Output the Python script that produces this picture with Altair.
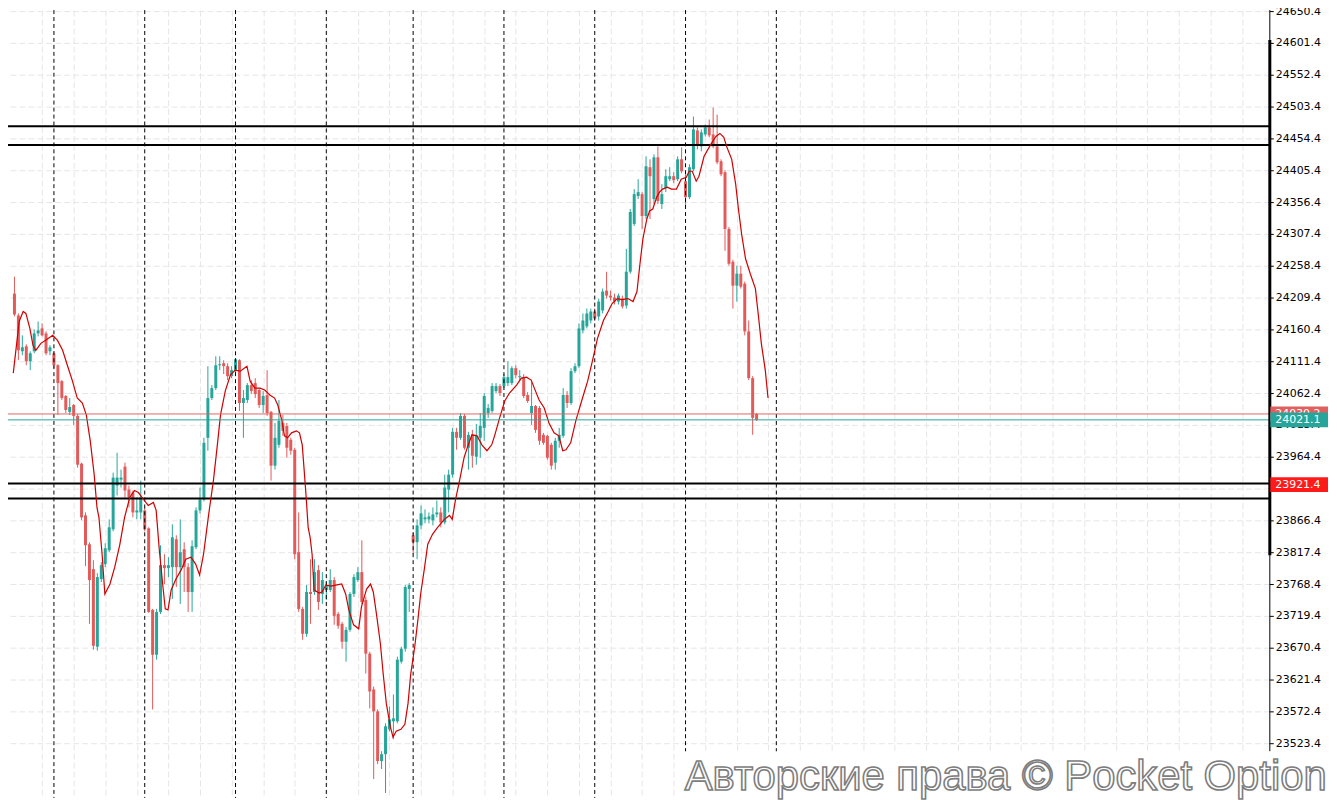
import altair as alt
import pandas as pd

# ---------------- data ----------------
opens = [24215.5, 24181.8, 24126.7, 24134.3, 24111.4, 24126.7, 24154.2, 24161.9, 24154.2, 24126.7,
         24123.6, 24105.2, 24080.7, 24057.8, 24033.3, 24044.0, 24027.2, 23953.7, 23874.0, 23829.6,
         23791.3, 23671.9, 23776.0, 23799.0, 23820.4, 23852.6, 23920.0, 23929.1, 23949.1, 23913.8,
         23909.2, 23878.6, 23878.6, 23881.7, 23854.1, 23728.6, 23659.6, 23725.5, 23797.5, 23792.9,
         23794.4, 23837.3, 23794.4, 23822.0, 23794.4, 23756.1, 23825.0, 23881.7, 23898.5, 23993.5,
         24054.7, 24070.0, 24105.2, 24108.3, 24103.7, 24088.4, 24096.1, 24112.9, 24047.1, 24051.7,
         24074.6, 24077.7, 24067.0, 24044.0, 24059.3, 24033.3, 23950.6, 23982.7, 24016.4, 24011.8,
         23990.4, 23975.1, 23817.4, 23730.1, 23691.8, 23756.1, 23756.1, 23789.8, 23753.1, 23759.2,
         23759.2, 23774.5, 23722.4, 23707.1, 23679.6, 23697.9, 23753.1, 23774.5, 23786.7, 23743.9,
         23661.2, 23606.1, 23572.4, 23495.8, 23506.5, 23544.8, 23557.1, 23557.1, 23648.9, 23668.8,
         23760.7, 23843.4, 23832.7, 23858.7, 23867.9, 23867.9, 23866.4, 23875.6, 23878.6, 23863.3,
         23913.8, 23936.8, 24002.7, 23993.5, 24027.2, 23978.2, 23998.1, 23964.4, 23993.5, 24008.8,
         24031.7, 24034.8, 24065.4, 24073.1, 24073.1, 24077.7, 24077.7, 24100.7, 24086.9, 24086.9,
         24059.3, 24031.7, 24042.5, 24039.4, 23998.1, 23996.5, 23982.7, 23955.2, 23988.9, 23996.5,
         24059.3, 24047.1, 24096.1, 24103.7, 24158.8, 24165.0, 24174.1, 24187.9, 24180.3, 24189.5,
         24220.1, 24212.4, 24209.4, 24203.2, 24207.8, 24197.1, 24249.2, 24322.7, 24365.6, 24368.6,
         24334.9, 24410.0, 24361.0, 24425.3, 24353.3, 24377.8, 24391.6, 24396.2, 24391.6, 24422.2,
         24388.5, 24364.0, 24406.9, 24466.6, 24442.1, 24460.5, 24471.2, 24460.5, 24442.1, 24419.2,
         24402.3, 24315.0, 24264.5, 24227.7, 24246.1, 24230.8, 24157.3, 24085.3, 24030.2]

closes = [24183.3, 24128.2, 24132.8, 24111.4, 24123.6, 24154.2, 24158.8, 24151.2, 24123.6, 24132.8,
          24105.2, 24077.7, 24054.7, 24036.3, 24040.9, 24027.2, 23952.1, 23871.0, 23828.1, 23774.5,
          23673.4, 23779.1, 23797.5, 23823.5, 23855.7, 23932.2, 23932.2, 23932.2, 23912.3, 23901.6,
          23878.6, 23881.7, 23901.6, 23852.6, 23725.5, 23659.6, 23725.5, 23797.5, 23792.9, 23797.5,
          23840.3, 23794.4, 23817.4, 23794.4, 23756.1, 23826.6, 23881.7, 23898.5, 23985.8, 24054.7,
          24070.0, 24105.2, 24106.8, 24103.7, 24088.4, 24097.6, 24114.4, 24047.1, 24054.7, 24074.6,
          24065.4, 24060.8, 24044.0, 24057.8, 24031.7, 23950.6, 23993.5, 24019.5, 24004.2, 23978.2,
          23973.6, 23814.3, 23730.1, 23691.8, 23756.1, 23753.1, 23786.7, 23740.8, 23774.5, 23766.8,
          23774.5, 23719.4, 23704.1, 23679.6, 23697.9, 23753.1, 23779.1, 23786.7, 23740.8, 23661.2,
          23603.0, 23572.4, 23495.8, 23506.5, 23549.4, 23560.1, 23561.7, 23652.0, 23668.8, 23763.8,
          23766.8, 23832.7, 23858.7, 23877.1, 23871.0, 23872.5, 23875.6, 23878.6, 23863.3, 23916.9,
          23936.8, 24002.7, 23993.5, 24027.2, 23978.2, 23998.1, 23965.9, 23996.5, 24011.8, 24057.8,
          24039.4, 24073.1, 24073.1, 24062.4, 24086.9, 24086.9, 24100.7, 24089.9, 24088.4, 24057.8,
          24050.1, 24042.5, 24005.7, 23988.9, 23985.8, 23962.8, 23950.6, 23988.9, 23998.1, 24059.3,
          24047.1, 24096.1, 24103.7, 24161.9, 24174.1, 24184.9, 24187.9, 24177.2, 24203.2, 24218.6,
          24212.4, 24209.4, 24203.2, 24212.4, 24195.6, 24249.2, 24341.1, 24368.6, 24371.7, 24334.9,
          24411.5, 24396.2, 24425.3, 24357.9, 24368.6, 24396.2, 24396.2, 24390.1, 24422.2, 24403.8,
          24364.0, 24410.0, 24468.2, 24445.2, 24463.6, 24471.2, 24459.0, 24442.1, 24417.6, 24399.2,
          24315.0, 24261.4, 24227.7, 24246.1, 24226.2, 24157.3, 24085.3, 24024.1, 24021.1]

highs = [24241.5, 24184.9, 24151.2, 24137.4, 24126.7, 24160.4, 24172.6, 24169.6, 24157.3, 24135.9,
         24126.7, 24106.8, 24082.3, 24059.3, 24054.7, 24045.5, 24030.2, 23955.2, 23878.6, 23832.7,
         23805.1, 23785.2, 23802.1, 23831.2, 23867.9, 23939.9, 23970.5, 23944.5, 23955.2, 23920.0,
         23912.3, 23901.6, 23927.6, 23886.3, 23855.7, 23730.1, 23730.1, 23828.1, 23814.3, 23809.7,
         23860.2, 23843.4, 23867.9, 23832.7, 23800.5, 23835.7, 23886.3, 23916.9, 23993.5, 24103.7,
         24074.6, 24119.0, 24119.0, 24112.9, 24108.3, 24103.7, 24116.0, 24114.4, 24067.0, 24077.7,
         24082.3, 24085.3, 24070.0, 24065.4, 24097.6, 24034.8, 24016.4, 24051.7, 24028.7, 24016.4,
         23993.5, 23978.2, 23878.6, 23733.2, 23766.8, 23806.6, 23806.6, 23797.5, 23786.7, 23771.4,
         23791.3, 23779.1, 23725.5, 23710.2, 23702.5, 23756.1, 23783.7, 23794.4, 23835.7, 23748.5,
         23664.2, 23610.7, 23575.4, 23511.1, 23554.0, 23580.0, 23598.4, 23656.6, 23671.9, 23766.8,
         23769.9, 23848.0, 23867.9, 23889.3, 23883.2, 23878.6, 23886.3, 23897.0, 23886.3, 23936.8,
         23944.5, 24008.8, 24008.8, 24031.7, 24030.2, 24002.7, 24005.7, 24014.9, 24031.7, 24062.4,
         24045.5, 24077.7, 24077.7, 24076.2, 24091.5, 24111.4, 24103.7, 24105.2, 24097.6, 24091.5,
         24063.9, 24079.2, 24044.0, 24042.5, 24001.1, 23998.1, 23985.8, 23993.5, 24008.8, 24070.0,
         24065.4, 24100.7, 24108.3, 24169.6, 24184.9, 24192.5, 24192.5, 24192.5, 24207.8, 24223.2,
         24249.2, 24220.1, 24215.5, 24215.5, 24212.4, 24284.4, 24345.7, 24376.3, 24391.6, 24371.7,
         24426.8, 24422.2, 24429.9, 24442.1, 24383.9, 24406.9, 24410.0, 24402.3, 24426.8, 24440.6,
         24399.2, 24414.6, 24488.1, 24471.2, 24468.2, 24475.8, 24483.5, 24501.8, 24491.1, 24422.2,
         24405.4, 24318.1, 24267.6, 24258.4, 24258.4, 24233.9, 24174.1, 24088.4, 24031.7]

lows = [24180.3, 24112.9, 24120.6, 24105.2, 24097.6, 24123.6, 24149.6, 24149.6, 24120.6, 24120.6,
        24100.7, 24028.7, 24051.7, 24031.7, 24028.7, 24013.4, 23947.5, 23866.4, 23795.9, 23707.1,
        23667.3, 23665.8, 23771.4, 23794.4, 23817.4, 23849.5, 23904.7, 23916.9, 23901.6, 23886.3,
        23871.0, 23867.9, 23867.9, 23849.5, 23724.0, 23575.4, 23652.0, 23722.4, 23768.4, 23779.1,
        23745.4, 23763.8, 23737.7, 23756.1, 23725.5, 23725.5, 23822.0, 23877.1, 23895.5, 23973.6,
        24051.7, 24067.0, 24097.6, 24091.5, 24082.3, 24085.3, 24093.0, 24034.8, 23993.5, 24047.1,
        24060.8, 24054.7, 24039.4, 24031.7, 24027.2, 23927.6, 23944.5, 23978.2, 23996.5, 23962.8,
        23967.4, 23806.6, 23725.5, 23682.6, 23687.2, 23707.1, 23751.5, 23728.6, 23737.7, 23743.9,
        23756.1, 23705.6, 23699.5, 23668.8, 23648.9, 23694.9, 23748.5, 23771.4, 23737.7, 23630.6,
        23577.0, 23468.2, 23491.2, 23483.6, 23446.8, 23541.7, 23529.5, 23554.0, 23645.9, 23664.2,
        23725.5, 23814.3, 23806.6, 23852.6, 23861.8, 23861.8, 23858.7, 23871.0, 23855.7, 23860.2,
        23878.6, 23932.2, 23975.1, 23990.4, 23975.1, 23944.5, 23947.5, 23952.1, 23962.8, 23988.9,
        24024.1, 24031.7, 24062.4, 24057.8, 24070.0, 24073.1, 24074.6, 24085.3, 24080.7, 24054.7,
        24047.1, 24013.4, 24001.1, 23982.7, 23982.7, 23959.8, 23944.5, 23944.5, 23978.2, 23993.5,
        24039.4, 24044.0, 24093.0, 24100.7, 24154.2, 24161.9, 24169.6, 24174.1, 24174.1, 24184.9,
        24207.8, 24204.8, 24198.7, 24198.7, 24192.5, 24192.5, 24246.1, 24319.6, 24361.0, 24315.0,
        24330.3, 24330.3, 24353.3, 24353.3, 24345.7, 24371.7, 24388.5, 24385.5, 24388.5, 24400.8,
        24350.2, 24361.0, 24403.8, 24437.5, 24434.5, 24457.4, 24455.9, 24439.1, 24414.6, 24396.2,
        24281.3, 24258.4, 24192.5, 24203.2, 24223.2, 24151.2, 24082.3, 23998.1, 24019.5]

# moving-average line: (candle position, value)
ma_pos = [-0.3, 1.2, 2.2, 2.9, 3.9, 4.7, 5.4, 6.7, 7.9, 9.7, 10.9, 12.2, 13.4, 14.7, 15.9, 17.2, 18.2,
          19.2, 20.2, 20.9, 21.4, 22.2, 22.9, 24.2, 25.4, 26.7, 27.9, 29.2, 30.4, 31.4, 32.7, 33.9, 35.2,
          35.9, 36.7, 37.7, 38.2, 38.9, 39.7, 40.9, 42.2, 43.4, 44.7, 45.9, 46.9, 47.9, 49.2, 50.4, 51.4,
          52.2, 53.4, 54.7, 55.9, 57.2, 58.9, 59.7, 60.9, 62.2, 63.4, 64.7, 65.9, 66.7, 67.7, 68.4, 69.2,
          70.2, 71.4, 72.2, 72.9, 73.4, 73.9, 74.4, 74.9, 75.4, 75.9, 77.2, 77.9, 78.9, 80.2, 81.4, 82.9,
          83.9, 84.7, 85.9, 87.2, 87.9, 89.2, 90.2, 90.9, 91.7, 92.7, 93.4, 94.2, 95.2, 95.9, 96.7, 97.9,
          98.9, 99.7, 100.4, 101.4, 102.2, 102.9, 103.9, 104.7, 105.9, 107.2, 108.9, 110.2, 110.9, 111.7,
          112.9, 113.9, 114.7, 115.9, 117.2, 118.4, 119.7, 120.9, 121.7, 122.9, 124.2, 125.4, 127.2,
          128.4, 129.7, 130.9, 131.7, 132.9, 134.2, 135.4, 136.7, 137.9, 138.9, 139.7, 140.9, 142.2,
          143.9, 145.2, 146.4, 147.7, 149.2, 150.4, 151.4, 152.7, 153.9, 155.4, 156.7, 157.7, 158.4,
          159.2, 160.2, 160.9, 161.7, 162.7, 163.4, 164.2, 165.4, 166.4, 167.7, 168.9, 170.2, 170.9,
          171.7, 172.7, 173.4, 174.7, 176.4, 177.7, 178.7, 179.7, 180.4, 181.7, 182.7, 183.4, 184.2,
          185.2, 186.4, 187.7, 188.4, 189.2, 190.2, 190.9]
ma_vals = [24093.0, 24172.6, 24187.9, 24184.9, 24161.9, 24135.9, 24128.2, 24138.9, 24143.5, 24151.2,
           24143.5, 24128.2, 24105.2, 24080.7, 24054.7, 24047.1, 24028.7, 23988.9, 23936.8, 23886.3,
           23871.0, 23814.3, 23753.1, 23768.4, 23794.4, 23829.6, 23871.0, 23901.6, 23912.3, 23909.2,
           23898.5, 23889.3, 23893.9, 23881.7, 23820.4, 23759.2, 23730.1, 23728.6, 23759.2, 23776.0,
           23789.8, 23806.6, 23809.7, 23799.0, 23782.2, 23814.3, 23875.6, 23927.6, 23982.7, 24028.7,
           24065.4, 24089.9, 24097.6, 24096.1, 24103.7, 24080.7, 24070.0, 24070.0, 24067.0, 24059.3,
           24054.7, 24044.0, 24021.0, 23996.5, 23993.5, 24001.1, 24004.2, 24001.1, 23982.7, 23942.9,
           23901.6, 23855.7, 23840.3, 23814.3, 23759.2, 23754.6, 23756.1, 23766.8, 23765.3, 23766.8,
           23768.4, 23753.1, 23728.6, 23705.6, 23699.5, 23733.2, 23760.7, 23768.4, 23756.1, 23722.4,
           23676.5, 23630.6, 23584.6, 23549.4, 23532.6, 23541.7, 23544.8, 23552.5, 23584.6, 23630.6,
           23671.9, 23713.2, 23753.1, 23794.4, 23829.6, 23844.9, 23855.7, 23867.9, 23874.0, 23867.9,
           23897.0, 23932.2, 23962.8, 23978.2, 23998.1, 23996.5, 23982.7, 23973.6, 23982.7, 23998.1,
           24024.1, 24050.1, 24062.4, 24074.6, 24085.3, 24086.9, 24082.3, 24070.0, 24051.7, 24039.4,
           24016.4, 24001.1, 23996.5, 23973.6, 23975.1, 23985.8, 24019.5, 24054.7, 24080.7, 24111.4,
           24146.6, 24174.1, 24187.9, 24200.2, 24207.8, 24206.3, 24207.8, 24203.2, 24218.6, 24258.4,
           24299.7, 24330.3, 24342.6, 24345.7, 24364.0, 24371.7, 24376.3, 24379.3, 24376.3, 24376.3,
           24391.6, 24394.6, 24403.8, 24403.8, 24388.5, 24396.2, 24426.8, 24445.2, 24457.4, 24462.0,
           24455.9, 24442.1, 24422.2, 24383.9, 24345.7, 24307.4, 24269.1, 24246.1, 24223.2, 24184.9,
           24138.9, 24097.6, 24054.7]

y_tick_values = [23523.4, 23572.4, 23621.4, 23670.4, 23719.4, 23768.4, 23817.4, 23866.4, 23915.4,
                 23964.4, 24013.4, 24062.4, 24111.4, 24160.4, 24209.4, 24258.4, 24307.4, 24356.4,
                 24405.4, 24454.4, 24503.4, 24552.4, 24601.4, 24650.4]
session_breaks = [10, 33, 56, 79, 101, 124, 147, 170, 193]
level_lines = [24473.2, 24444.1, 23923.0, 23900.1]
price_red = 24030.2
price_teal = 24021.1
tag_prices = [24030.2, 24021.1, 23921.4]
tag_texts = ["24030.2", "24021.1", "23921.4"]
tag_colors = ["#e06060", "#26a69a", "#ff1a1a"]
watermark_text = "Авторские права © Pocket Option"

# ---------------- styling ----------------
TEAL = "#26a69a"
RED = "#e25a5a"
MA_COLOR = "#d00000"
GRID = "#e6e6e6"
W, H = 1268, 792
xs = alt.Scale(domain=[-0.375, 316.625], nice=False, zero=False)
ys = alt.Scale(domain=[23439.15, 24651.9], nice=False, zero=False)

vgrid_values = [7 + 8 * m for m in range(39)]
X_AX = alt.Axis(values=vgrid_values, grid=True, gridDash=[6, 3], gridColor=GRID, labels=False,
                ticks=False, domain=False, title=None)
Y_AX = alt.Axis(orient="right", values=y_tick_values, format=".1f", grid=True, gridDash=[6, 3],
                gridColor=GRID, domain=False, ticks=True, tickColor="black", tickSize=4,
                labelPadding=2, labelFont="DejaVu Sans", labelFontSize=11, labelColor="#000000",
                title=None)


def X(field):
    return alt.X(field, scale=xs, axis=X_AX)


def Y(field):
    return alt.Y(field, scale=ys, axis=Y_AX)


candles = pd.DataFrame({"i": list(range(len(opens))), "open": opens, "high": highs,
                        "low": lows, "close": closes})
candles["dir"] = ["up" if c >= o else "down" for o, c in zip(opens, closes)]
color = alt.Color("dir:N", scale=alt.Scale(domain=["up", "down"], range=[TEAL, RED]), legend=None)

wicks = alt.Chart(candles).mark_rule(strokeWidth=1).encode(
    x=X("i:Q"), y=Y("low:Q"), y2="high:Q", color=color)
bodies = alt.Chart(candles).mark_bar(size=3).encode(
    x=X("i:Q"), y=Y("open:Q"), y2="close:Q", color=color)

sessions = alt.Chart(pd.DataFrame({"i": session_breaks})).mark_rule(
    color="black", strokeDash=[4, 3], strokeWidth=1).encode(x=X("i:Q"))

ma = alt.Chart(pd.DataFrame({"pos": ma_pos, "val": ma_vals})).mark_line(
    color=MA_COLOR, strokeWidth=1.2, clip=True).encode(x=X("pos:Q"), y=Y("val:Q"), order="pos:Q")

levels = alt.Chart(pd.DataFrame({"p": level_lines})).mark_rule(color="black", strokeWidth=2).encode(
    y=Y("p:Q"))
red_line = alt.Chart(pd.DataFrame({"p": [price_red]})).mark_rule(color="#e06666", strokeWidth=1).encode(
    y=Y("p:Q"))
teal_line = alt.Chart(pd.DataFrame({"p": [price_teal]})).mark_rule(color=TEAL, strokeWidth=1).encode(
    y=Y("p:Q"))

tag_layers = []
for p, t, c in zip(tag_prices, tag_texts, tag_colors):
    d = pd.DataFrame({"p": [p], "t": [t]})
    box = alt.Chart(d).transform_calculate(top="datum.p + 11.5", bot="datum.p - 11.5").mark_rect(
        color=c).encode(x=alt.value(W + 1), x2=alt.value(W + 59), y=Y("top:Q"), y2="bot:Q")
    txt = alt.Chart(d).mark_text(align="left", baseline="middle", font="DejaVu Sans", fontSize=11,
                                 color="white").encode(x=alt.value(W + 6), y=Y("p:Q"), text="t:N")
    tag_layers += [box, txt]

one = pd.DataFrame({"a": [0]})
axis_thin = alt.Chart(one).mark_rule(color="black", strokeWidth=1).encode(
    x=alt.value(W + 0.5), y=alt.value(0), y2=alt.value(745))
axis_thick = alt.Chart(one).mark_rule(color="black", strokeWidth=3).encode(
    x=alt.value(W + 0.5), y=alt.value(30), y2=alt.value(548))

wm_box = alt.Chart(one).mark_rect(color="white").encode(
    x=alt.value(676), x2=alt.value(W), y=alt.value(745), y2=alt.value(H))
wm_text = alt.Chart(one).mark_text(text=watermark_text, font="Liberation Sans", fontSize=42,
                                   fill="white", stroke="#7d7d7d", strokeWidth=1.6,
                                   align="center", baseline="alphabetic").encode(
    x=alt.value(1003), y=alt.value(784))

chart = alt.layer(
    wicks, bodies, sessions, levels, ma, red_line, teal_line,
    wm_box, wm_text, axis_thin, axis_thick, *tag_layers,
).properties(
    width=W, height=H,
    autosize=alt.AutoSizeParams(type="none"),
    padding={"left": 0, "top": 0, "right": 60, "bottom": 0},
    background="white",
).configure_view(stroke=None)

chart.save("out.html", embed_options={"renderer": "svg", "actions": False})
